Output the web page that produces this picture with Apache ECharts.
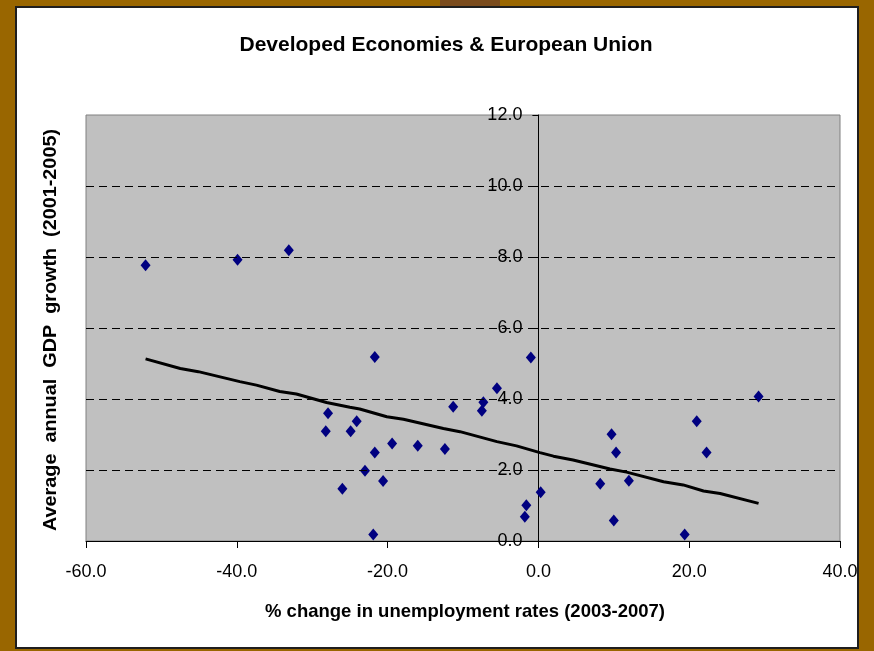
<!DOCTYPE html>
<html>
<head>
<meta charset="utf-8">
<title>Developed Economies &amp; European Union</title>
<script src="https://cdn.jsdelivr.net/npm/echarts@6/dist/echarts.min.js"></script>
<style>
  html, body { margin: 0; padding: 0; background: #996600; }
  #chart { width: 874px; height: 651px; }
</style>
</head>
<body>
<div id="chart"></div>
<script>
// % change in unemployment rates (2003-2007) per economy
const unempChange = [-52.1, -39.9, -33.1, -21.7, -27.9, -28.2, -24.9, -24.1, -21.7, -23.0, -26.0,
  -21.9, -20.6, -19.4, -16.0, -12.4, -11.3, -7.5, -7.3, -5.5, -1.0, -1.6, -1.8, 0.3,
  8.2, 9.7, 10.3, 10.0, 12.0, 19.4, 21.0, 22.3, 29.2];
// Average annual GDP growth (2001-2005) per economy
const gdpGrowth = [7.77, 7.92, 8.19, 5.18, 3.60, 3.09, 3.09, 3.37, 2.49, 1.98, 1.47,
  0.18, 1.69, 2.75, 2.68, 2.59, 3.78, 3.67, 3.91, 4.30, 5.17, 1.01, 0.68, 1.37,
  1.61, 3.01, 2.49, 0.58, 1.70, 0.18, 3.37, 2.49, 4.07];
// Trend line vertices
const trendX = [-52.1, -47.5, -45.1, -39.6, -37.4, -34.3, -32.1, -28.1, -25.0, -23.7, -20.1, -17.9,
  -12.6, -10.4, -5.5, -2.9, 0.2, 2.0, 4.6, 9.5, 11.7, 16.6, 19.2, 21.9, 24.1, 29.2];
const trendY = [5.13, 4.86, 4.77, 4.49, 4.39, 4.21, 4.14, 3.90, 3.77, 3.72, 3.50, 3.43,
  3.17, 3.08, 2.80, 2.68, 2.49, 2.39, 2.28, 2.03, 1.94, 1.67, 1.58, 1.41, 1.34, 1.06];
// Dashed reference levels on the GDP axis
const gridLevels = [2, 4, 6, 8, 10];

const titleText = 'Developed Economies & European Union';
const xName = '% change in unemployment rates (2003-2007)';
const yName = 'Average  annual  GDP  growth  (2001-2005)';

const FONT = '"Liberation Sans", Arial, sans-serif';

// Plot box in pixels
const GRID = { left: 86, right: 34, top: 115, bottom: 110 };
const X_MIN = -60, X_MAX = 40;
const plotWidth = 874 - GRID.left - GRID.right;
// The GDP axis crosses the unemployment axis at 0: shift it right from the plot's left edge
const yAxisShift = plotWidth * (0 - X_MIN) / (X_MAX - X_MIN);

const chart = echarts.init(document.getElementById('chart'), null, { renderer: 'canvas' });

chart.setOption({
  backgroundColor: '#996600',
  animation: false,
  graphic: [
    { type: 'rect', z: -10, shape: { x: 440, y: 0, width: 60, height: 8 },
      style: { fill: '#7a4b1c' } },
    { type: 'rect', z: -5, shape: { x: 16, y: 7, width: 842, height: 641 },
      style: { fill: '#ffffff', stroke: '#1e1e1e', lineWidth: 2 } },
    { type: 'text', z: 10, x: 446, y: 45,
      style: { text: titleText, font: 'bold 21px ' + FONT, fill: '#000',
        align: 'center', verticalAlign: 'middle' } },
    { type: 'text', z: 10, x: 465, y: 612,
      style: { text: xName, font: 'bold 18.5px ' + FONT, fill: '#000',
        align: 'center', verticalAlign: 'middle' } },
    { type: 'text', z: 10, x: 51, y: 330, rotation: Math.PI / 2, scaleX: 1.1,
      style: { text: yName, font: 'bold 18px ' + FONT, fill: '#000',
        align: 'center', verticalAlign: 'middle' } }
  ],
  grid: {
    left: GRID.left, right: GRID.right, top: GRID.top, bottom: GRID.bottom,
    show: true, backgroundColor: '#c0c0c0', borderColor: '#808080', borderWidth: 1
  },
  xAxis: {
    type: 'value', min: X_MIN, max: X_MAX, interval: 20,
    axisLine: { show: true, onZero: true, lineStyle: { color: '#000', width: 1 } },
    axisTick: { show: true, inside: false, length: 7, lineStyle: { color: '#000' } },
    axisLabel: { margin: 22, fontSize: 18, fontFamily: FONT, color: '#000',
      formatter: v => v.toFixed(1) },
    splitLine: { show: false }
  },
  yAxis: {
    type: 'value', min: 0, max: 12, interval: 2,
    position: 'left', offset: -yAxisShift,
    axisLine: { show: true, onZero: false, lineStyle: { color: '#000', width: 1 } },
    axisTick: { show: true, inside: false, length: 6, lineStyle: { color: '#000' } },
    axisLabel: { margin: 16, fontSize: 18, fontFamily: FONT, color: '#000',
      formatter: v => v.toFixed(1) },
    splitLine: { show: false }
  },
  series: [
    {
      type: 'line',
      data: trendX.map((x, i) => [x, trendY[i]]),
      showSymbol: false, symbol: 'none',
      lineStyle: { color: '#000', width: 3 },
      z: 3,
      markLine: {
        silent: true, symbol: 'none', label: { show: false },
        lineStyle: { color: '#000', width: 1, type: [8, 5] },
        data: gridLevels.map(v => ({ yAxis: v }))
      }
    },
    {
      type: 'scatter',
      data: unempChange.map((x, i) => [x, gdpGrowth[i]]),
      symbol: 'diamond', symbolSize: [10, 12],
      itemStyle: { color: '#000080', opacity: 1 },
      z: 4
    }
  ]
});
</script>
</body>
</html>
